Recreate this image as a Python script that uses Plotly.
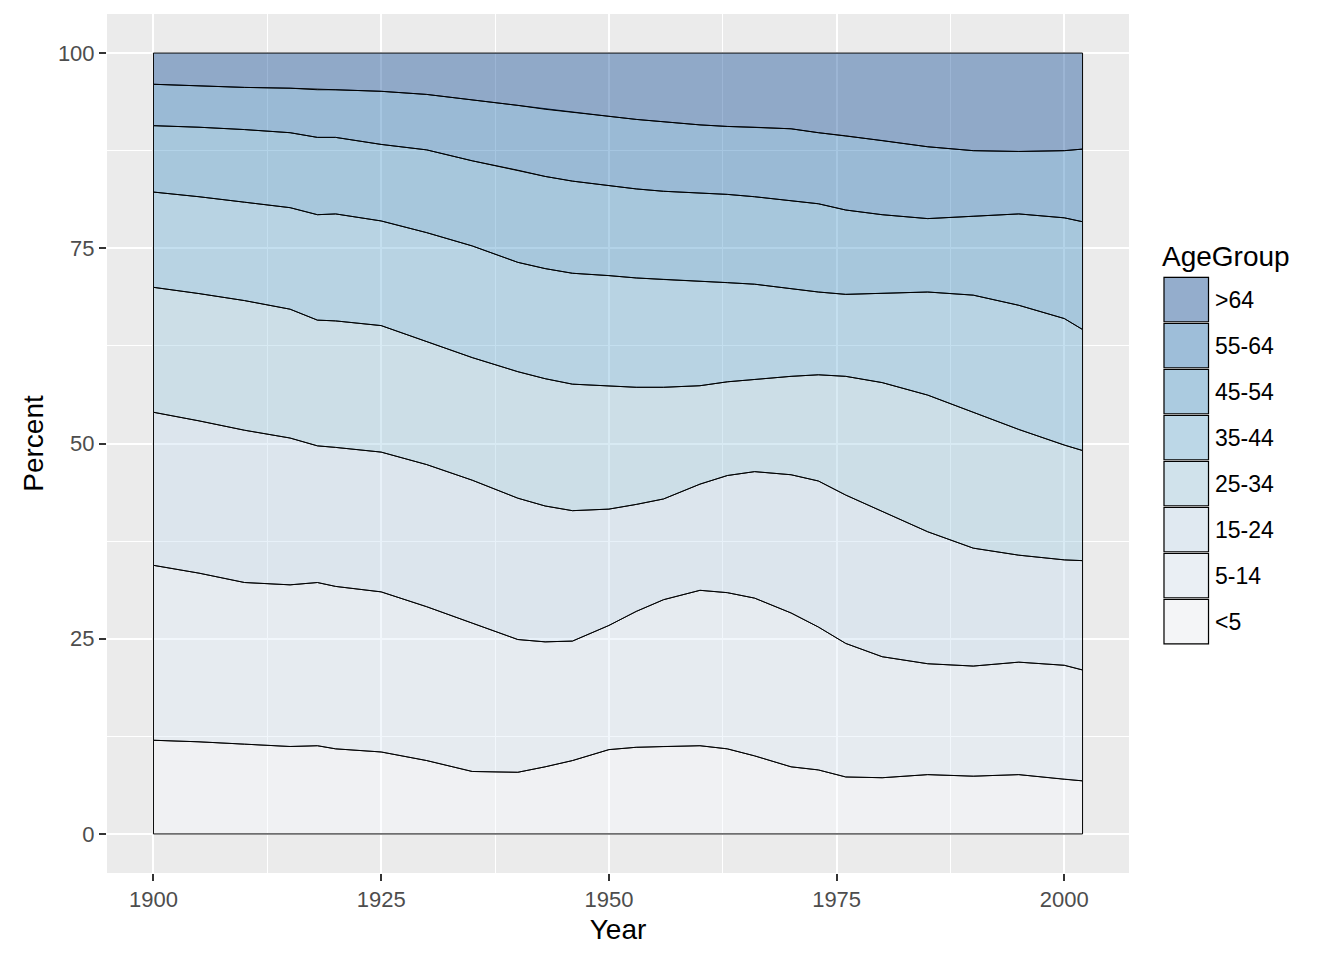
import numpy as np
import plotly.graph_objects as go

years = [1900, 1905, 1910, 1915, 1918, 1920, 1925, 1930, 1935, 1940, 1943, 1946,
         1950, 1953, 1956, 1960, 1963, 1966, 1970, 1973, 1976, 1980, 1985, 1990,
         1995, 2000, 2002]

age_groups = ["<5", "5-14", "15-24", "25-34", "35-44", "45-54", "55-64", ">64"]

pct_lt5 = [12.0, 11.8, 11.5, 11.2, 11.3, 10.9, 10.5, 9.4, 8.0, 7.9, 8.6, 9.4,
           10.8, 11.1, 11.2, 11.3, 10.9, 10.0, 8.6, 8.2, 7.3, 7.2, 7.6, 7.4,
           7.6, 7.0, 6.8]
pct_5_14 = [22.4, 21.6, 20.7, 20.7, 20.9, 20.8, 20.5, 19.7, 19.0, 17.0, 16.0, 15.3,
            15.9, 17.4, 18.8, 19.9, 20.0, 20.2, 19.7, 18.3, 17.1, 15.5, 14.2, 14.1,
            14.4, 14.6, 14.2]
pct_15_24 = [19.6, 19.5, 19.5, 18.8, 17.5, 17.8, 17.9, 18.2, 18.3, 18.1, 17.4, 16.7,
             14.9, 13.7, 12.9, 13.6, 15.0, 16.2, 17.7, 18.7, 19.0, 18.6, 16.9, 15.1,
             13.7, 13.5, 14.0]
pct_25_34 = [16.0, 16.3, 16.6, 16.5, 16.1, 16.2, 16.2, 15.7, 15.7, 16.2, 16.3, 16.2,
             15.8, 15.0, 14.3, 12.6, 12.0, 11.8, 12.6, 13.6, 15.2, 16.5, 17.5, 17.4,
             16.1, 14.7, 14.1]
pct_35_44 = [12.2, 12.4, 12.6, 13.0, 13.5, 13.7, 13.4, 14.0, 14.3, 14.0, 14.1, 14.2,
             14.1, 14.0, 13.8, 13.4, 12.7, 12.2, 11.2, 10.6, 10.5, 11.4, 13.2, 15.0,
             15.9, 16.2, 15.5]
pct_45_54 = [8.5, 8.9, 9.3, 9.6, 9.9, 9.8, 9.8, 10.6, 10.9, 11.8, 11.8, 11.8,
             11.5, 11.4, 11.3, 11.3, 11.3, 11.2, 11.3, 11.3, 10.8, 10.1, 9.4, 10.1,
             11.7, 12.9, 13.8]
pct_55_64 = [5.3, 5.3, 5.4, 5.7, 6.1, 6.1, 6.8, 7.1, 7.8, 8.3, 8.6, 8.8,
             8.9, 8.9, 8.9, 8.7, 8.7, 8.9, 9.2, 9.1, 9.5, 9.5, 9.2, 8.4,
             8.0, 8.6, 9.3]
pct_gt64 = [4.0, 4.2, 4.4, 4.5, 4.7, 4.7, 4.9, 5.3, 6.0, 6.7, 7.2, 7.6,
            8.1, 8.5, 8.8, 9.2, 9.4, 9.5, 9.7, 10.2, 10.6, 11.2, 12.0, 12.5,
            12.6, 12.5, 12.3]

x_ticks = [1900, 1925, 1950, 1975, 2000]
y_ticks = [0, 25, 50, 75, 100]

blues = ["#F7FBFF", "#DEEBF7", "#C6DBEF", "#9ECAE1", "#6BAED6", "#4292C6", "#2171B5", "#084594"]


def rgba(hx, a=0.4):
    hx = hx.lstrip("#")
    r, g, b = int(hx[0:2], 16), int(hx[2:4], 16), int(hx[4:6], 16)
    return f"rgba({r},{g},{b},{a})"


series = [pct_lt5, pct_5_14, pct_15_24, pct_25_34, pct_35_44, pct_45_54, pct_55_64, pct_gt64]
vals = np.array(series, dtype=float)
totals = vals.sum(axis=0)
vals = vals / totals * 100.0
cum = np.cumsum(vals, axis=0)
yrs = np.array(years, dtype=float)

FONT = "Liberation Sans, Arial, sans-serif"

fig = go.Figure()
for i, name in enumerate(age_groups):
    upper = cum[i]
    lower = cum[i - 1] if i > 0 else np.zeros_like(upper)
    xs = np.concatenate([yrs, yrs[::-1], yrs[:1]])
    ys = np.concatenate([upper, lower[::-1], upper[:1]])
    fig.add_trace(go.Scatter(
        x=xs, y=ys, mode="lines", fill="toself",
        fillcolor=rgba(blues[i]), line=dict(color="black", width=1),
        name=name, showlegend=False, hoverinfo="skip"))

# Layout geometry (page pixels; the page body has an 8px default margin)
OFF = 8
W, H = 1344 - OFF, 960 - OFF
PL, PR, PT, PB = 107, 1129, 14, 873  # panel edges in page pixels
L, R, T, B = PL - OFF, (W + OFF) - PR, PT - OFF, (H + OFF) - PB
pw, ph = PR - PL, PB - PT


def px_x(px):
    return (px - PL) / pw


def px_y(py):
    return (PB - py) / ph


shapes = []
annotations = []
# Legend
key_left, key_w, key_h, pitch, first_top = 1164, 44.5, 44.5, 46, 277.3
for j, name in enumerate(age_groups[::-1]):
    idx = len(age_groups) - 1 - j
    top = first_top + pitch * j
    shapes.append(dict(type="rect", xref="paper", yref="paper",
                       x0=px_x(key_left - 1), x1=px_x(key_left + key_w + 1),
                       y0=px_y(top + key_h + 1), y1=px_y(top - 1),
                       fillcolor="#F2F2F2", line=dict(width=0), layer="above"))
    shapes.append(dict(type="rect", xref="paper", yref="paper",
                       x0=px_x(key_left), x1=px_x(key_left + key_w),
                       y0=px_y(top + key_h), y1=px_y(top),
                       fillcolor=rgba(blues[idx]), line=dict(color="black", width=1.2),
                       layer="above"))
    annotations.append(dict(xref="paper", yref="paper", x=px_x(1213), y=px_y(top + key_h / 2),
                            text=name, showarrow=False, xanchor="left", yanchor="middle",
                            font=dict(family=FONT, size=23, color="black")))
annotations.append(dict(xref="paper", yref="paper", x=px_x(1160), y=px_y(256),
                        text="AgeGroup", showarrow=False, xanchor="left", yanchor="middle",
                        font=dict(family=FONT, size=28, color="black")))

fig.update_layout(
    width=W, height=H,
    margin=dict(l=L, r=R, t=T, b=B, pad=0),
    paper_bgcolor="white", plot_bgcolor="#EBEBEB",
    showlegend=False,
    shapes=shapes, annotations=annotations,
    font=dict(family=FONT),
)
fig.update_xaxes(
    range=[1894.9, 2007.1], tickvals=x_ticks, ticktext=[str(v) for v in x_ticks],
    showgrid=True, gridcolor="white", gridwidth=2,
    minor=dict(tick0=1900, dtick=12.5, showgrid=True, gridcolor="white", gridwidth=1),
    zeroline=False, showline=False,
    ticks="outside", ticklen=7, tickwidth=2, tickcolor="#333333",
    tickfont=dict(family=FONT, size=22, color="#4D4D4D"),
    title=dict(text="Year", font=dict(family=FONT, size=28, color="black"), standoff=7),
)
fig.update_yaxes(
    range=[-5, 105], tickvals=y_ticks, ticktext=[str(v) for v in y_ticks],
    showgrid=True, gridcolor="white", gridwidth=2,
    minor=dict(tick0=0, dtick=12.5, showgrid=True, gridcolor="white", gridwidth=1),
    zeroline=False, showline=False,
    ticks="outside", ticklen=7, tickwidth=2, tickcolor="#333333",
    tickfont=dict(family=FONT, size=22, color="#4D4D4D"),
    title=dict(text="Percent", font=dict(family=FONT, size=28, color="black"), standoff=6),
)

fig.write_html("out.html")
